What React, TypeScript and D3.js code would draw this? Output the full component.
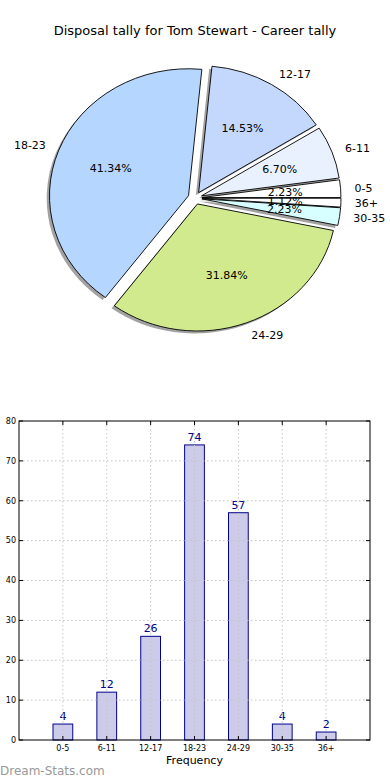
import React from "react";
import * as d3 from "d3";

// disposal groups and counts
const categories = ["0-5", "6-11", "12-17", "18-23", "24-29", "30-35", "36+"];
const counts = [4, 12, 26, 74, 57, 4, 2];
const sliceColors = ["#ffffff", "#e9f0fe", "#c4d8fe", "#b5d6fe", "#d0ea8d", "#d8ffff", "#ffffff"];
const yTicks = [0, 10, 20, 30, 40, 50, 60, 70, 80];

const W = 390;
const H = 780;
const font = "DejaVu Sans, Verdana, sans-serif";

// pie geometry (matplotlib-like, not equal aspect -> ellipse)
const cx = 195;
const cy = 198;
const rx = 139;
const ry = 127;
const explode = 0.05;

function Pie() {
  const total = d3.sum(counts);
  const pie = d3
    .pie<number>()
    .sort(null)
    .startAngle(Math.PI / 2)
    .endAngle(Math.PI / 2 - 2 * Math.PI);
  const arcs = pie(counts);
  const arc = d3.arc<d3.PieArcDatum<number>>().innerRadius(0).outerRadius(1);

  const mid = (a: d3.PieArcDatum<number>) => (a.startAngle + a.endAngle) / 2;
  // unit vector of the mid angle, screen coords
  const dir = (a: d3.PieArcDatum<number>) => [Math.sin(mid(a)), -Math.cos(mid(a))];

  return (
    <g>
      <g transform={`translate(${cx},${cy}) scale(${rx},${ry})`}>
        {arcs.map((a, i) => {
          const [ux, uy] = dir(a);
          return (
            <path
              key={"s" + i}
              d={arc(a) || ""}
              transform={`translate(${ux * explode - 0.02},${uy * explode + 0.02})`}
              fill="#555"
              opacity={0.55}
            />
          );
        })}
        {arcs.map((a, i) => {
          const [ux, uy] = dir(a);
          return (
            <path
              key={"w" + i}
              d={arc(a) || ""}
              transform={`translate(${ux * explode},${uy * explode})`}
              fill={sliceColors[i]}
              stroke="#000"
              strokeWidth={0.9}
              vectorEffect="non-scaling-stroke"
            />
          );
        })}
      </g>
      {arcs.map((a, i) => {
        const [ux, uy] = dir(a);
        const lx = cx + (1.1 + explode) * rx * ux;
        const ly = cy + (1.1 + explode) * ry * uy;
        const px = cx + (0.6 + explode) * rx * ux;
        const py = cy + (0.6 + explode) * ry * uy;
        return (
          <g key={"l" + i} fontFamily={font} fontSize={11} fill="#000">
            <text x={lx} y={ly} dy="0.35em" textAnchor={ux > 0 ? "start" : "end"}>
              {categories[i]}
            </text>
            <text x={px} y={py} dy="0.35em" textAnchor="middle">
              {((counts[i] / total) * 100).toFixed(2) + "%"}
            </text>
          </g>
        );
      })}
    </g>
  );
}

function Bars() {
  const left = 19;
  const right = 370;
  const top = 421;
  const bottom = 740;
  const x = d3.scaleLinear().domain([0, categories.length + 1]).range([left, right]);
  const y = d3.scaleLinear().domain([0, 80]).range([bottom, top]);
  const bw = x(0.45) - x(0);
  const grid = "#c4c4c4";
  return (
    <g fontFamily={font}>
      {counts.map((v, i) => (
        <g key={"b" + i}>
          <rect
            x={x(i + 1) - bw / 2}
            y={y(v)}
            width={bw}
            height={y(0) - y(v)}
            fill="#ccccea"
            stroke="#00008b"
            strokeWidth={1}
          />
          <text x={x(i + 1)} y={y(v) - 4} textAnchor="middle" fontSize={11} fill="#00008b">
            {v}
          </text>
        </g>
      ))}
      {/* dotted grid drawn over the bars, like the reference */}
      {yTicks.slice(1, -1).map((t) => (
        <line key={"gy" + t} x1={left} x2={right} y1={y(t)} y2={y(t)} stroke={grid} strokeDasharray="1.5,2.5" />
      ))}
      {categories.map((c, i) => (
        <line key={"gx" + c} x1={x(i + 1)} x2={x(i + 1)} y1={top} y2={bottom} stroke={grid} strokeDasharray="1.5,2.5" />
      ))}
      <rect x={left} y={top} width={right - left} height={bottom - top} fill="none" stroke="#000" strokeWidth={1} />
      {yTicks.map((t) => (
        <g key={"ty" + t}>
          <line x1={left} x2={left + 4} y1={y(t)} y2={y(t)} stroke="#000" />
          <line x1={right - 4} x2={right} y1={y(t)} y2={y(t)} stroke="#000" />
          <text x={left - 3} y={y(t)} dy="0.35em" textAnchor="end" fontSize={8} fill="#000">
            {t}
          </text>
        </g>
      ))}
      {categories.map((c, i) => (
        <g key={"tx" + c}>
          <line x1={x(i + 1)} x2={x(i + 1)} y1={bottom} y2={bottom - 4} stroke="#000" />
          <line x1={x(i + 1)} x2={x(i + 1)} y1={top} y2={top + 4} stroke="#000" />
          <text x={x(i + 1)} y={bottom + 11} textAnchor="middle" fontSize={8} fill="#000">
            {c}
          </text>
        </g>
      ))}
      <text x={(left + right) / 2} y={bottom + 24} textAnchor="middle" fontSize={11} fill="#000">
        Frequency
      </text>
    </g>
  );
}

export default function App() {
  return (
    <svg
      width={W}
      height={H}
      viewBox={`0 0 ${W} ${H}`}
      style={{ position: "absolute", left: 0, top: 0, background: "#fff" }}
    >
      <rect width={W} height={H} fill="#fff" />
      <text x={195} y={35} textAnchor="middle" fontFamily={font} fontSize={13} fill="#000">
        Disposal tally for Tom Stewart - Career tally
      </text>
      <Pie />
      <Bars />
      <text x={0} y={775} fontFamily={font} fontSize={12} fill="#999">
        Dream-Stats.com
      </text>
    </svg>
  );
}
